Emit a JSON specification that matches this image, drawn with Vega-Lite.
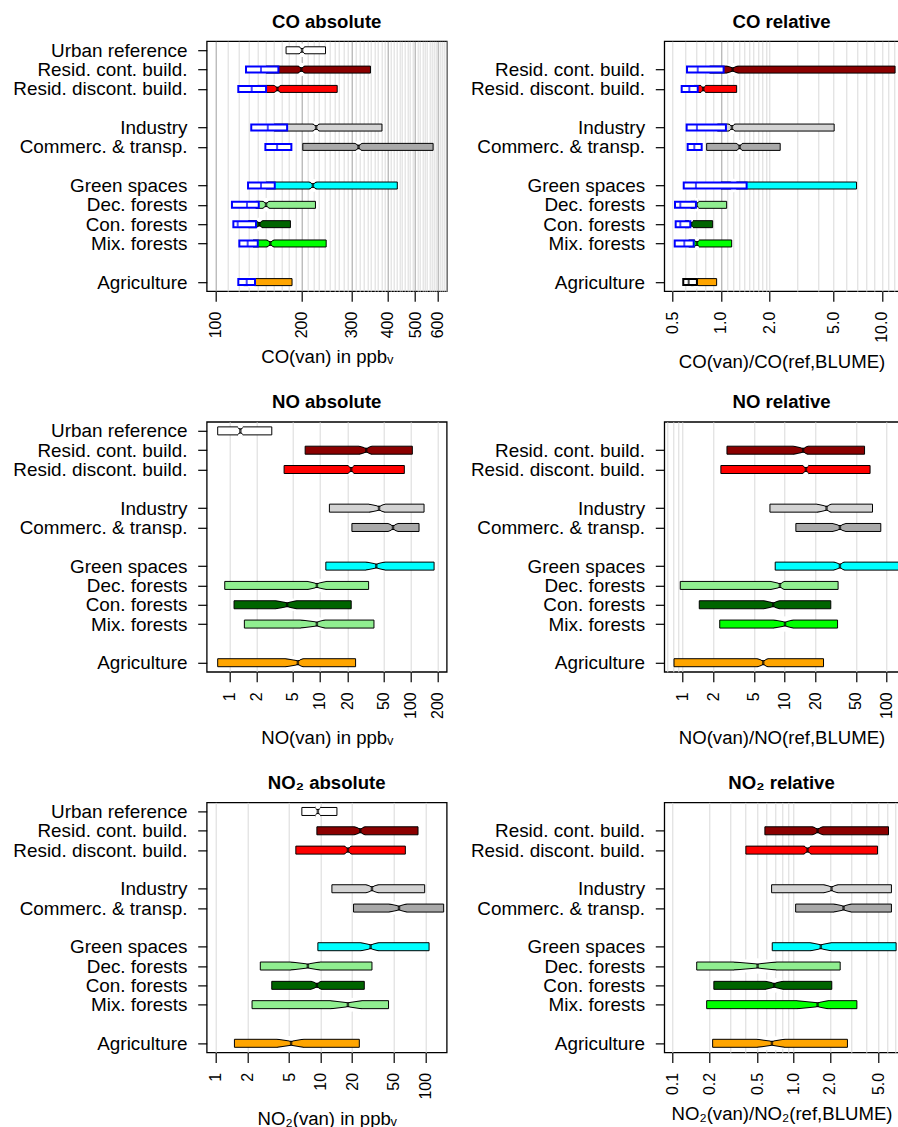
{
  "$schema": "https://vega.github.io/schema/vega-lite/v6.json",
  "background": "white",
  "padding": {"left": 11.7, "top": 11.2, "right": 0, "bottom": 0},
  "columns": 2,
  "bounds": "flush",
  "align": "each",
  "spacing": {"row": 130.6, "column": 217.6},
  "resolve": {"scale": {"fill": "independent", "stroke": "independent", "color": "independent", "size": "independent"}},
  "config": {
    "font": "Liberation Sans",
    "view": {"stroke": "black", "strokeWidth": 1.3},
    "axis": {"domain": false, "labelColor": "black", "titleColor": "black", "tickColor": "black", "labelFont": "Liberation Sans", "titleFont": "Liberation Sans"},
    "title": {"font": "Liberation Sans", "fontSize": 18.6, "fontWeight": "bold", "color": "black", "anchor": "middle", "offset": 10}
  },
  "datasets": {
    "co_abs": [
      {"cat": "Urban reference", "q1": 176.2, "nlo": 196, "med": 200.5, "nhi": 205, "q3": 242.3},
      {"cat": "Resid. cont. build.", "q1": 150, "nlo": 194.5, "med": 199.4, "nhi": 204.5, "q3": 348.4, "bq1": 127.5, "bmed": 143.9, "bq3": 165.6},
      {"cat": "Resid. discont. build.", "q1": 140, "nlo": 160, "med": 164.3, "nhi": 168.5, "q3": 266.3, "bq1": 119.8, "bmed": 133.5, "bq3": 149.9},
      {"cat": "Industry", "q1": 160, "nlo": 219, "med": 224.6, "nhi": 230, "q3": 382.3, "bq1": 133.0, "bmed": 152.0, "bq3": 177.7},
      {"cat": "Commerc. & transp.", "q1": 201.7, "nlo": 308, "med": 316.4, "nhi": 325, "q3": 577.9, "bq1": 149.1, "bmed": 163.9, "bq3": 183.9},
      {"cat": "Green spaces", "q1": 150, "nlo": 213, "med": 218.8, "nhi": 225, "q3": 432.7, "bq1": 129.6, "bmed": 143.9, "bq3": 160.8},
      {"cat": "Dec. forests", "q1": 138, "nlo": 146, "med": 149.9, "nhi": 154, "q3": 223.4, "bq1": 113.8, "bmed": 128.5, "bq3": 141.3},
      {"cat": "Con. forests", "q1": 130, "nlo": 138.5, "med": 142.0, "nhi": 145.5, "q3": 182.5, "bq1": 115.1, "bmed": 119.2, "bq3": 138.2},
      {"cat": "Mix. forests", "q1": 135, "nlo": 151, "med": 155.2, "nhi": 159.5, "q3": 243.6, "bq1": 120.8, "bmed": 129.2, "bq3": 140.2},
      {"cat": "Agriculture", "q1": 125, "nlo": 130, "med": 133, "nhi": 136, "q3": 184.9, "bq1": 119.8, "bmed": 128.2, "bq3": 137.1}
    ],
    "co_rel": [
      {"cat": "Resid. cont. build.", "q1": 0.85, "nlo": 1.09, "med": 1.182, "nhi": 1.27, "q3": 12.09, "bq1": 0.615, "bmed": 0.717, "bq3": 1.039},
      {"cat": "Resid. discont. build.", "q1": 0.68, "nlo": 0.75, "med": 0.776, "nhi": 0.80, "q3": 1.252, "bq1": 0.570, "bmed": 0.636, "bq3": 0.717},
      {"cat": "Industry", "q1": 0.95, "nlo": 1.12, "med": 1.170, "nhi": 1.22, "q3": 5.055, "bq1": 0.612, "bmed": 0.709, "bq3": 1.074},
      {"cat": "Commerc. & transp.", "q1": 0.815, "nlo": 1.25, "med": 1.306, "nhi": 1.36, "q3": 2.335, "bq1": 0.621, "bmed": 0.683, "bq3": 0.759},
      {"cat": "Green spaces", "q1": 1.0, "nlo": 1.15, "med": 1.2, "nhi": 1.25, "q3": 6.965, "bq1": 0.587, "bmed": 0.699, "bq3": 1.444},
      {"cat": "Dec. forests", "q1": 0.65, "nlo": 0.69, "med": 0.706, "nhi": 0.72, "q3": 1.085, "bq1": 0.518, "bmed": 0.559, "bq3": 0.699},
      {"cat": "Con. forests", "q1": 0.6, "nlo": 0.64, "med": 0.651, "nhi": 0.665, "q3": 0.888, "bq1": 0.523, "bmed": 0.559, "bq3": 0.645},
      {"cat": "Mix. forests", "q1": 0.63, "nlo": 0.69, "med": 0.709, "nhi": 0.725, "q3": 1.166, "bq1": 0.516, "bmed": 0.592, "bq3": 0.677},
      {"cat": "Agriculture", "q1": 0.65, "nlo": 0.68, "med": 0.70, "nhi": 0.72, "q3": 0.940, "bq1": 0.583, "bmed": 0.630, "bq3": 0.709}
    ],
    "no_abs": [
      {"cat": "Urban reference", "q1": 0.744, "nlo": 1.25, "med": 1.323, "nhi": 1.40, "q3": 2.94},
      {"cat": "Resid. cont. build.", "q1": 6.86, "nlo": 27.3, "med": 32.4, "nhi": 36.8, "q3": 104.4},
      {"cat": "Resid. discont. build.", "q1": 4.02, "nlo": 20.3, "med": 22.1, "nhi": 23.5, "q3": 85.2},
      {"cat": "Industry", "q1": 12.7, "nlo": 35.2, "med": 44.8, "nhi": 51.6, "q3": 140.6},
      {"cat": "Commerc. & transp.", "q1": 22.5, "nlo": 56.3, "med": 63.9, "nhi": 72.6, "q3": 123.8},
      {"cat": "Green spaces", "q1": 11.6, "nlo": 32.4, "med": 41.8, "nhi": 51.6, "q3": 181.4},
      {"cat": "Dec. forests", "q1": 0.89, "nlo": 7.35, "med": 9.24, "nhi": 11.7, "q3": 34.4},
      {"cat": "Con. forests", "q1": 1.127, "nlo": 3.28, "med": 4.34, "nhi": 5.46, "q3": 22.1},
      {"cat": "Mix. forests", "q1": 1.465, "nlo": 6.2, "med": 9.24, "nhi": 11.2, "q3": 39.4},
      {"cat": "Agriculture", "q1": 0.744, "nlo": 4.23, "med": 5.70, "nhi": 6.47, "q3": 24.7}
    ],
    "no_rel": [
      {"cat": "Resid. cont. build.", "q1": 2.72, "nlo": 12.4, "med": 15.2, "nhi": 16.8, "q3": 60.9},
      {"cat": "Resid. discont. build.", "q1": 2.37, "nlo": 15.0, "med": 16.2, "nhi": 17.0, "q3": 69.0},
      {"cat": "Industry", "q1": 7.18, "nlo": 21.1, "med": 25.8, "nhi": 28.4, "q3": 72.9},
      {"cat": "Commerc. & transp.", "q1": 12.9, "nlo": 29.6, "med": 34.9, "nhi": 39.9, "q3": 87.9},
      {"cat": "Green spaces", "q1": 8.09, "nlo": 30.6, "med": 34.9, "nhi": 38.4, "q3": 150},
      {"cat": "Dec. forests", "q1": 0.947, "nlo": 7.34, "med": 9.0, "nhi": 9.91, "q3": 33.5},
      {"cat": "Con. forests", "q1": 1.455, "nlo": 6.31, "med": 7.73, "nhi": 8.85, "q3": 28.4},
      {"cat": "Mix. forests", "q1": 2.31, "nlo": 7.91, "med": 10.1, "nhi": 12.0, "q3": 33.1},
      {"cat": "Agriculture", "q1": 0.822, "nlo": 5.44, "med": 6.17, "nhi": 6.81, "q3": 24.1}
    ],
    "no2_abs": [
      {"cat": "Urban reference", "q1": 6.61, "nlo": 9.1, "med": 9.40, "nhi": 9.7, "q3": 14.3},
      {"cat": "Resid. cont. build.", "q1": 9.20, "nlo": 21.1, "med": 23.9, "nhi": 26.3, "q3": 85.1},
      {"cat": "Resid. discont. build.", "q1": 5.79, "nlo": 16.9, "med": 18.2, "nhi": 19.6, "q3": 64.4},
      {"cat": "Industry", "q1": 12.8, "nlo": 27.3, "med": 30.9, "nhi": 35.3, "q3": 98.5},
      {"cat": "Commerc. & transp.", "q1": 20.6, "nlo": 45.5, "med": 56.0, "nhi": 65.8, "q3": 149.6},
      {"cat": "Green spaces", "q1": 9.40, "nlo": 24.4, "med": 30.0, "nhi": 35.3, "q3": 108.5},
      {"cat": "Dec. forests", "q1": 2.65, "nlo": 5.22, "med": 7.54, "nhi": 9.74, "q3": 30.9},
      {"cat": "Con. forests", "q1": 3.41, "nlo": 8.11, "med": 9.20, "nhi": 10.1, "q3": 26.1},
      {"cat": "Mix. forests", "q1": 2.21, "nlo": 12.6, "med": 18.2, "nhi": 24.4, "q3": 44.5},
      {"cat": "Agriculture", "q1": 1.50, "nlo": 3.89, "med": 5.22, "nhi": 6.76, "q3": 23.4}
    ],
    "no2_rel": [
      {"cat": "Resid. cont. build.", "q1": 0.579, "nlo": 1.44, "med": 1.58, "nhi": 1.74, "q3": 6.10},
      {"cat": "Resid. discont. build.", "q1": 0.403, "nlo": 1.22, "med": 1.305, "nhi": 1.39, "q3": 4.95},
      {"cat": "Industry", "q1": 0.658, "nlo": 1.79, "med": 2.06, "nhi": 2.31, "q3": 6.45},
      {"cat": "Commerc. & transp.", "q1": 1.04, "nlo": 2.17, "med": 2.59, "nhi": 2.98, "q3": 6.45},
      {"cat": "Green spaces", "q1": 0.666, "nlo": 1.39, "med": 1.68, "nhi": 2.03, "q3": 7.05},
      {"cat": "Dec. forests", "q1": 0.158, "nlo": 0.323, "med": 0.504, "nhi": 0.714, "q3": 2.43},
      {"cat": "Con. forests", "q1": 0.219, "nlo": 0.590, "med": 0.691, "nhi": 0.811, "q3": 2.07},
      {"cat": "Mix. forests", "q1": 0.191, "nlo": 1.08, "med": 1.58, "nhi": 1.91, "q3": 3.34},
      {"cat": "Agriculture", "q1": 0.214, "nlo": 0.504, "med": 0.662, "nhi": 0.836, "q3": 2.79}
    ]
  },
  "concat": [
    {
      "width": 240, "height": 250,
      "title": {"text": "CO absolute"},
      "data": {"name": "co_abs"},
      "resolve": {"scale": {"size": "independent"}},
      "encoding": {"y": {"field": "cat", "type": "nominal", "scale": {"type": "point", "domain": ["Urban reference", "Resid. cont. build.", "Resid. discont. build.", " ", "Industry", "Commerc. & transp.", "  ", "Green spaces", "Dec. forests", "Con. forests", "Mix. forests", "   ", "Agriculture"], "padding": 0.47}, "axis": {"values": ["Urban reference", "Resid. cont. build.", "Resid. discont. build.", "Industry", "Commerc. & transp.", "Green spaces", "Dec. forests", "Con. forests", "Mix. forests", "Agriculture"], "title": null, "labelFontSize": 18.9, "labelPadding": 10.7, "labelLimit": 0, "tickSize": 9, "tickWidth": 1.2, "grid": false}}},
      "layer": [
        {"mark": {"type": "bar", "size": 7, "stroke": "black", "strokeWidth": 1, "clip": true},
         "encoding": {
           "x": {"field": "q1", "type": "quantitative", "scale": {"type": "log", "domain": [92.8, 644.9], "nice": false},
                 "axis": {"title": "CO(van) in ppbᵥ", "values": [100,110,120,130,140,150,160,170,180,190,200,210,220,230,240,250,260,270,280,290,300,310,320,330,340,350,360,370,380,390,400,410,420,430,440,450,460,470,480,490,500,510,520,530,540,550,560,570,580,590,600,610,620,630,640],
                          "labelExpr": "indexof([100,200,300,400,500,600], datum.value) >= 0 ? format(datum.value, 'd') : ''",
                          "labelAngle": 270, "labelFontSize": 16, "labelPadding": 10, "labelOverlap": false, "labelFlush": false, "labelBound": false,
                          "tickSize": 10, "tickWidth": 1.2, "tickOpacity": {"condition": {"test": "indexof([100,200,300,400,500,600], datum.value) >= 0", "value": 1}, "value": 0},
                          "grid": true, "gridWidth": 1, "gridColor": {"condition": {"test": "indexof([100,200,300,400,500,600], datum.value) >= 0", "value": "#a0a0a0"}, "value": "#dadada"},
                          "titleFontSize": 18.6, "titleFontWeight": "normal", "titlePadding": 10}},
           "x2": {"field": "q3"},
           "fill": {"field": "cat", "type": "nominal", "scale": {"domain": ["Urban reference", "Resid. cont. build.", "Resid. discont. build.", "Industry", "Commerc. & transp.", "Green spaces", "Dec. forests", "Con. forests", "Mix. forests", "Agriculture"], "range": ["#FFFFFF", "#8B0000", "#FF0000", "#D3D3D3", "#A9A9A9", "#00FFFF", "#90EE90", "#006400", "#00FF00", "#FFA500"]}, "legend": null}
         }},
        {"transform": [{"fold": ["nlo", "med"], "as": ["k", "v"]}], "mark": {"type": "trail", "color": "black", "yOffset": -3.5},
         "encoding": {"x": {"field": "v", "type": "quantitative", "scale": {"type": "log", "domain": [92.8, 644.9], "nice": false}}, "detail": {"field": "cat"}, "order": {"field": "v", "type": "quantitative"}, "size": {"field": "k", "type": "nominal", "scale": {"type": "point", "domain": ["nlo", "med"], "range": [0, 4.5], "padding": 0}, "legend": null}}},
        {"transform": [{"fold": ["med", "nhi"], "as": ["k", "v"]}], "mark": {"type": "trail", "color": "black", "yOffset": -3.5},
         "encoding": {"x": {"field": "v", "type": "quantitative", "scale": {"type": "log", "domain": [92.8, 644.9], "nice": false}}, "detail": {"field": "cat"}, "order": {"field": "v", "type": "quantitative"}, "size": {"field": "k", "type": "nominal", "scale": {"type": "point", "domain": ["nhi", "med"], "range": [0, 4.5], "padding": 0}, "legend": null}}},
        {"transform": [{"fold": ["nlo", "med"], "as": ["k", "v"]}], "mark": {"type": "trail", "color": "white", "yOffset": -4.5},
         "encoding": {"x": {"field": "v", "type": "quantitative", "scale": {"type": "log", "domain": [92.8, 644.9], "nice": false}}, "detail": {"field": "cat"}, "order": {"field": "v", "type": "quantitative"}, "size": {"field": "k", "type": "nominal", "scale": {"type": "point", "domain": ["nlo", "med"], "range": [0, 4.5], "padding": 0}, "legend": null}}},
        {"transform": [{"fold": ["med", "nhi"], "as": ["k", "v"]}], "mark": {"type": "trail", "color": "white", "yOffset": -4.5},
         "encoding": {"x": {"field": "v", "type": "quantitative", "scale": {"type": "log", "domain": [92.8, 644.9], "nice": false}}, "detail": {"field": "cat"}, "order": {"field": "v", "type": "quantitative"}, "size": {"field": "k", "type": "nominal", "scale": {"type": "point", "domain": ["nhi", "med"], "range": [0, 4.5], "padding": 0}, "legend": null}}},
        {"transform": [{"fold": ["nlo", "med"], "as": ["k", "v"]}], "mark": {"type": "trail", "color": "black", "yOffset": 3.5},
         "encoding": {"x": {"field": "v", "type": "quantitative", "scale": {"type": "log", "domain": [92.8, 644.9], "nice": false}}, "detail": {"field": "cat"}, "order": {"field": "v", "type": "quantitative"}, "size": {"field": "k", "type": "nominal", "scale": {"type": "point", "domain": ["nlo", "med"], "range": [0, 4.5], "padding": 0}, "legend": null}}},
        {"transform": [{"fold": ["med", "nhi"], "as": ["k", "v"]}], "mark": {"type": "trail", "color": "black", "yOffset": 3.5},
         "encoding": {"x": {"field": "v", "type": "quantitative", "scale": {"type": "log", "domain": [92.8, 644.9], "nice": false}}, "detail": {"field": "cat"}, "order": {"field": "v", "type": "quantitative"}, "size": {"field": "k", "type": "nominal", "scale": {"type": "point", "domain": ["nhi", "med"], "range": [0, 4.5], "padding": 0}, "legend": null}}},
        {"transform": [{"fold": ["nlo", "med"], "as": ["k", "v"]}], "mark": {"type": "trail", "color": "white", "yOffset": 4.5},
         "encoding": {"x": {"field": "v", "type": "quantitative", "scale": {"type": "log", "domain": [92.8, 644.9], "nice": false}}, "detail": {"field": "cat"}, "order": {"field": "v", "type": "quantitative"}, "size": {"field": "k", "type": "nominal", "scale": {"type": "point", "domain": ["nlo", "med"], "range": [0, 4.5], "padding": 0}, "legend": null}}},
        {"transform": [{"fold": ["med", "nhi"], "as": ["k", "v"]}], "mark": {"type": "trail", "color": "white", "yOffset": 4.5},
         "encoding": {"x": {"field": "v", "type": "quantitative", "scale": {"type": "log", "domain": [92.8, 644.9], "nice": false}}, "detail": {"field": "cat"}, "order": {"field": "v", "type": "quantitative"}, "size": {"field": "k", "type": "nominal", "scale": {"type": "point", "domain": ["nhi", "med"], "range": [0, 4.5], "padding": 0}, "legend": null}}},
        {"mark": {"type": "tick", "color": "black", "thickness": 2.5, "size": 4.5},
         "encoding": {"x": {"field": "med", "type": "quantitative", "scale": {"type": "log", "domain": [92.8, 644.9], "nice": false}}}},
        {"mark": {"type": "bar", "size": 6, "fill": "white", "stroke": "#0000FF", "strokeWidth": 2, "clip": true},
         "encoding": {"x": {"field": "bq1", "type": "quantitative", "scale": {"type": "log", "domain": [92.8, 644.9], "nice": false}}, "x2": {"field": "bq3"}}},
        {"mark": {"type": "tick", "color": "#0000FF", "thickness": 2, "size": 5},
         "encoding": {"x": {"field": "bmed", "type": "quantitative", "scale": {"type": "log", "domain": [92.8, 644.9], "nice": false}}}}
      ]
    },
    {
      "width": 234.5, "height": 250,
      "title": {"text": "CO relative"},
      "data": {"name": "co_rel"},
      "resolve": {"scale": {"size": "independent"}},
      "encoding": {"y": {"field": "cat", "type": "nominal", "scale": {"type": "point", "domain": ["Urban reference", "Resid. cont. build.", "Resid. discont. build.", " ", "Industry", "Commerc. & transp.", "  ", "Green spaces", "Dec. forests", "Con. forests", "Mix. forests", "   ", "Agriculture"], "padding": 0.47}, "axis": {"values": ["Resid. cont. build.", "Resid. discont. build.", "Industry", "Commerc. & transp.", "Green spaces", "Dec. forests", "Con. forests", "Mix. forests", "Agriculture"], "title": null, "labelFontSize": 18.9, "labelPadding": 10.7, "labelLimit": 0, "tickSize": 9, "tickWidth": 1.2, "grid": false}}},
      "layer": [
        {"mark": {"type": "bar", "size": 7, "stroke": "black", "strokeWidth": 1, "clip": true},
         "encoding": {
           "x": {"field": "q1", "type": "quantitative", "scale": {"type": "log", "domain": [0.4444, 12.75], "nice": false},
                 "axis": {"title": "CO(van)/CO(ref,BLUME)", "values": [0.5,0.6,0.7,0.8,0.9,1,1.1,1.2,1.3,1.4,1.5,1.6,1.7,1.8,1.9,2,3,4,5,6,7,8,9,10,11,12],
                          "labelExpr": "indexof([0.5,1,2,5,10], datum.value) >= 0 ? format(datum.value, '.1f') : ''",
                          "labelAngle": 270, "labelFontSize": 16, "labelPadding": 10, "labelOverlap": false, "labelFlush": false, "labelBound": false,
                          "tickSize": 10, "tickWidth": 1.2, "tickOpacity": {"condition": {"test": "indexof([0.5,1,2,5,10], datum.value) >= 0", "value": 1}, "value": 0},
                          "grid": true, "gridWidth": 1, "gridColor": {"condition": {"test": "datum.value === 1", "value": "#a0a0a0"}, "value": "#dadada"},
                          "titleFontSize": 18.6, "titleFontWeight": "normal", "titlePadding": 10}},
           "x2": {"field": "q3"},
           "fill": {"field": "cat", "type": "nominal", "scale": {"domain": ["Urban reference", "Resid. cont. build.", "Resid. discont. build.", "Industry", "Commerc. & transp.", "Green spaces", "Dec. forests", "Con. forests", "Mix. forests", "Agriculture"], "range": ["#FFFFFF", "#8B0000", "#FF0000", "#D3D3D3", "#A9A9A9", "#00FFFF", "#90EE90", "#006400", "#00FF00", "#FFA500"]}, "legend": null}
         }},
        {"transform": [{"fold": ["nlo", "med"], "as": ["k", "v"]}], "mark": {"type": "trail", "color": "black", "yOffset": -3.5},
         "encoding": {"x": {"field": "v", "type": "quantitative", "scale": {"type": "log", "domain": [0.4444, 12.75], "nice": false}}, "detail": {"field": "cat"}, "order": {"field": "v", "type": "quantitative"}, "size": {"field": "k", "type": "nominal", "scale": {"type": "point", "domain": ["nlo", "med"], "range": [0, 4.5], "padding": 0}, "legend": null}}},
        {"transform": [{"fold": ["med", "nhi"], "as": ["k", "v"]}], "mark": {"type": "trail", "color": "black", "yOffset": -3.5},
         "encoding": {"x": {"field": "v", "type": "quantitative", "scale": {"type": "log", "domain": [0.4444, 12.75], "nice": false}}, "detail": {"field": "cat"}, "order": {"field": "v", "type": "quantitative"}, "size": {"field": "k", "type": "nominal", "scale": {"type": "point", "domain": ["nhi", "med"], "range": [0, 4.5], "padding": 0}, "legend": null}}},
        {"transform": [{"fold": ["nlo", "med"], "as": ["k", "v"]}], "mark": {"type": "trail", "color": "white", "yOffset": -4.5},
         "encoding": {"x": {"field": "v", "type": "quantitative", "scale": {"type": "log", "domain": [0.4444, 12.75], "nice": false}}, "detail": {"field": "cat"}, "order": {"field": "v", "type": "quantitative"}, "size": {"field": "k", "type": "nominal", "scale": {"type": "point", "domain": ["nlo", "med"], "range": [0, 4.5], "padding": 0}, "legend": null}}},
        {"transform": [{"fold": ["med", "nhi"], "as": ["k", "v"]}], "mark": {"type": "trail", "color": "white", "yOffset": -4.5},
         "encoding": {"x": {"field": "v", "type": "quantitative", "scale": {"type": "log", "domain": [0.4444, 12.75], "nice": false}}, "detail": {"field": "cat"}, "order": {"field": "v", "type": "quantitative"}, "size": {"field": "k", "type": "nominal", "scale": {"type": "point", "domain": ["nhi", "med"], "range": [0, 4.5], "padding": 0}, "legend": null}}},
        {"transform": [{"fold": ["nlo", "med"], "as": ["k", "v"]}], "mark": {"type": "trail", "color": "black", "yOffset": 3.5},
         "encoding": {"x": {"field": "v", "type": "quantitative", "scale": {"type": "log", "domain": [0.4444, 12.75], "nice": false}}, "detail": {"field": "cat"}, "order": {"field": "v", "type": "quantitative"}, "size": {"field": "k", "type": "nominal", "scale": {"type": "point", "domain": ["nlo", "med"], "range": [0, 4.5], "padding": 0}, "legend": null}}},
        {"transform": [{"fold": ["med", "nhi"], "as": ["k", "v"]}], "mark": {"type": "trail", "color": "black", "yOffset": 3.5},
         "encoding": {"x": {"field": "v", "type": "quantitative", "scale": {"type": "log", "domain": [0.4444, 12.75], "nice": false}}, "detail": {"field": "cat"}, "order": {"field": "v", "type": "quantitative"}, "size": {"field": "k", "type": "nominal", "scale": {"type": "point", "domain": ["nhi", "med"], "range": [0, 4.5], "padding": 0}, "legend": null}}},
        {"transform": [{"fold": ["nlo", "med"], "as": ["k", "v"]}], "mark": {"type": "trail", "color": "white", "yOffset": 4.5},
         "encoding": {"x": {"field": "v", "type": "quantitative", "scale": {"type": "log", "domain": [0.4444, 12.75], "nice": false}}, "detail": {"field": "cat"}, "order": {"field": "v", "type": "quantitative"}, "size": {"field": "k", "type": "nominal", "scale": {"type": "point", "domain": ["nlo", "med"], "range": [0, 4.5], "padding": 0}, "legend": null}}},
        {"transform": [{"fold": ["med", "nhi"], "as": ["k", "v"]}], "mark": {"type": "trail", "color": "white", "yOffset": 4.5},
         "encoding": {"x": {"field": "v", "type": "quantitative", "scale": {"type": "log", "domain": [0.4444, 12.75], "nice": false}}, "detail": {"field": "cat"}, "order": {"field": "v", "type": "quantitative"}, "size": {"field": "k", "type": "nominal", "scale": {"type": "point", "domain": ["nhi", "med"], "range": [0, 4.5], "padding": 0}, "legend": null}}},
        {"mark": {"type": "tick", "color": "black", "thickness": 2.5, "size": 4.5},
         "encoding": {"x": {"field": "med", "type": "quantitative", "scale": {"type": "log", "domain": [0.4444, 12.75], "nice": false}}}},
        {"mark": {"type": "bar", "size": 6, "fill": "white", "strokeWidth": 2, "clip": true},
         "encoding": {"x": {"field": "bq1", "type": "quantitative", "scale": {"type": "log", "domain": [0.4444, 12.75], "nice": false}}, "x2": {"field": "bq3"},
                      "stroke": {"field": "cat", "type": "nominal", "scale": {"domain": ["Resid. cont. build.", "Resid. discont. build.", "Industry", "Commerc. & transp.", "Green spaces", "Dec. forests", "Con. forests", "Mix. forests", "Agriculture"], "range": ["#0000FF", "#0000FF", "#0000FF", "#0000FF", "#0000FF", "#0000FF", "#0000FF", "#0000FF", "#000000"]}, "legend": null}}},
        {"mark": {"type": "tick", "thickness": 2, "size": 5},
         "encoding": {"x": {"field": "bmed", "type": "quantitative", "scale": {"type": "log", "domain": [0.4444, 12.75], "nice": false}},
                      "color": {"field": "cat", "type": "nominal", "scale": {"domain": ["Resid. cont. build.", "Resid. discont. build.", "Industry", "Commerc. & transp.", "Green spaces", "Dec. forests", "Con. forests", "Mix. forests", "Agriculture"], "range": ["#0000FF", "#0000FF", "#0000FF", "#0000FF", "#0000FF", "#0000FF", "#0000FF", "#0000FF", "#000000"]}, "legend": null}}}
      ]
    },
    {
      "width": 240, "height": 250,
      "title": {"text": "NO absolute"},
      "data": {"name": "no_abs"},
      "resolve": {"scale": {"size": "independent"}},
      "encoding": {"y": {"field": "cat", "type": "nominal", "scale": {"type": "point", "domain": ["Urban reference", "Resid. cont. build.", "Resid. discont. build.", " ", "Industry", "Commerc. & transp.", "  ", "Green spaces", "Dec. forests", "Con. forests", "Mix. forests", "   ", "Agriculture"], "padding": 0.47}, "axis": {"values": ["Urban reference", "Resid. cont. build.", "Resid. discont. build.", "Industry", "Commerc. & transp.", "Green spaces", "Dec. forests", "Con. forests", "Mix. forests", "Agriculture"], "title": null, "labelFontSize": 18.9, "labelPadding": 10.7, "labelLimit": 0, "tickSize": 9, "tickWidth": 1.2, "grid": false}}},
      "layer": [
        {"mark": {"type": "bar", "size": 8, "stroke": "black", "strokeWidth": 1, "clip": true},
         "encoding": {
           "x": {"field": "q1", "type": "quantitative", "scale": {"type": "log", "domain": [0.5627, 249.9], "nice": false},
                 "axis": {"title": "NO(van) in ppbᵥ", "values": [1,2,5,10,20,50,100,200], "format": "d",
                          "labelAngle": 270, "labelFontSize": 16, "labelPadding": 10, "labelOverlap": false, "labelFlush": false, "labelBound": false,
                          "tickSize": 10, "tickWidth": 1.2, "grid": true, "gridWidth": 1, "gridColor": "#d9d9d9",
                          "titleFontSize": 18.6, "titleFontWeight": "normal", "titlePadding": 10}},
           "x2": {"field": "q3"},
           "fill": {"field": "cat", "type": "nominal", "scale": {"domain": ["Urban reference", "Resid. cont. build.", "Resid. discont. build.", "Industry", "Commerc. & transp.", "Green spaces", "Dec. forests", "Con. forests", "Mix. forests", "Agriculture"], "range": ["#FFFFFF", "#8B0000", "#FF0000", "#D3D3D3", "#A9A9A9", "#00FFFF", "#90EE90", "#006400", "#90EE90", "#FFA500"]}, "legend": null}
         }},
        {"transform": [{"fold": ["nlo", "med"], "as": ["k", "v"]}], "mark": {"type": "trail", "color": "black", "yOffset": -4},
         "encoding": {"x": {"field": "v", "type": "quantitative", "scale": {"type": "log", "domain": [0.5627, 249.9], "nice": false}}, "detail": {"field": "cat"}, "order": {"field": "v", "type": "quantitative"}, "size": {"field": "k", "type": "nominal", "scale": {"type": "point", "domain": ["nlo", "med"], "range": [0, 5], "padding": 0}, "legend": null}}},
        {"transform": [{"fold": ["med", "nhi"], "as": ["k", "v"]}], "mark": {"type": "trail", "color": "black", "yOffset": -4},
         "encoding": {"x": {"field": "v", "type": "quantitative", "scale": {"type": "log", "domain": [0.5627, 249.9], "nice": false}}, "detail": {"field": "cat"}, "order": {"field": "v", "type": "quantitative"}, "size": {"field": "k", "type": "nominal", "scale": {"type": "point", "domain": ["nhi", "med"], "range": [0, 5], "padding": 0}, "legend": null}}},
        {"transform": [{"fold": ["nlo", "med"], "as": ["k", "v"]}], "mark": {"type": "trail", "color": "white", "yOffset": -5},
         "encoding": {"x": {"field": "v", "type": "quantitative", "scale": {"type": "log", "domain": [0.5627, 249.9], "nice": false}}, "detail": {"field": "cat"}, "order": {"field": "v", "type": "quantitative"}, "size": {"field": "k", "type": "nominal", "scale": {"type": "point", "domain": ["nlo", "med"], "range": [0, 5], "padding": 0}, "legend": null}}},
        {"transform": [{"fold": ["med", "nhi"], "as": ["k", "v"]}], "mark": {"type": "trail", "color": "white", "yOffset": -5},
         "encoding": {"x": {"field": "v", "type": "quantitative", "scale": {"type": "log", "domain": [0.5627, 249.9], "nice": false}}, "detail": {"field": "cat"}, "order": {"field": "v", "type": "quantitative"}, "size": {"field": "k", "type": "nominal", "scale": {"type": "point", "domain": ["nhi", "med"], "range": [0, 5], "padding": 0}, "legend": null}}},
        {"transform": [{"fold": ["nlo", "med"], "as": ["k", "v"]}], "mark": {"type": "trail", "color": "black", "yOffset": 4},
         "encoding": {"x": {"field": "v", "type": "quantitative", "scale": {"type": "log", "domain": [0.5627, 249.9], "nice": false}}, "detail": {"field": "cat"}, "order": {"field": "v", "type": "quantitative"}, "size": {"field": "k", "type": "nominal", "scale": {"type": "point", "domain": ["nlo", "med"], "range": [0, 5], "padding": 0}, "legend": null}}},
        {"transform": [{"fold": ["med", "nhi"], "as": ["k", "v"]}], "mark": {"type": "trail", "color": "black", "yOffset": 4},
         "encoding": {"x": {"field": "v", "type": "quantitative", "scale": {"type": "log", "domain": [0.5627, 249.9], "nice": false}}, "detail": {"field": "cat"}, "order": {"field": "v", "type": "quantitative"}, "size": {"field": "k", "type": "nominal", "scale": {"type": "point", "domain": ["nhi", "med"], "range": [0, 5], "padding": 0}, "legend": null}}},
        {"transform": [{"fold": ["nlo", "med"], "as": ["k", "v"]}], "mark": {"type": "trail", "color": "white", "yOffset": 5},
         "encoding": {"x": {"field": "v", "type": "quantitative", "scale": {"type": "log", "domain": [0.5627, 249.9], "nice": false}}, "detail": {"field": "cat"}, "order": {"field": "v", "type": "quantitative"}, "size": {"field": "k", "type": "nominal", "scale": {"type": "point", "domain": ["nlo", "med"], "range": [0, 5], "padding": 0}, "legend": null}}},
        {"transform": [{"fold": ["med", "nhi"], "as": ["k", "v"]}], "mark": {"type": "trail", "color": "white", "yOffset": 5},
         "encoding": {"x": {"field": "v", "type": "quantitative", "scale": {"type": "log", "domain": [0.5627, 249.9], "nice": false}}, "detail": {"field": "cat"}, "order": {"field": "v", "type": "quantitative"}, "size": {"field": "k", "type": "nominal", "scale": {"type": "point", "domain": ["nhi", "med"], "range": [0, 5], "padding": 0}, "legend": null}}},
        {"mark": {"type": "tick", "color": "black", "thickness": 2.5, "size": 5},
         "encoding": {"x": {"field": "med", "type": "quantitative", "scale": {"type": "log", "domain": [0.5627, 249.9], "nice": false}}}}
      ]
    },
    {
      "width": 234.5, "height": 250,
      "title": {"text": "NO relative"},
      "data": {"name": "no_rel"},
      "resolve": {"scale": {"size": "independent"}},
      "encoding": {"y": {"field": "cat", "type": "nominal", "scale": {"type": "point", "domain": ["Urban reference", "Resid. cont. build.", "Resid. discont. build.", " ", "Industry", "Commerc. & transp.", "  ", "Green spaces", "Dec. forests", "Con. forests", "Mix. forests", "   ", "Agriculture"], "padding": 0.47}, "axis": {"values": ["Resid. cont. build.", "Resid. discont. build.", "Industry", "Commerc. & transp.", "Green spaces", "Dec. forests", "Con. forests", "Mix. forests", "Agriculture"], "title": null, "labelFontSize": 18.9, "labelPadding": 10.7, "labelLimit": 0, "tickSize": 9, "tickWidth": 1.2, "grid": false}}},
      "layer": [
        {"mark": {"type": "bar", "size": 8, "stroke": "black", "strokeWidth": 1, "clip": true},
         "encoding": {
           "x": {"field": "q1", "type": "quantitative", "scale": {"type": "log", "domain": [0.66, 132], "nice": false},
                 "axis": {"title": "NO(van)/NO(ref,BLUME)", "values": [0.7,0.8,0.9,1,2,5,10,20,50,100],
                          "labelExpr": "datum.value >= 1 ? format(datum.value, 'd') : ''",
                          "labelAngle": 270, "labelFontSize": 16, "labelPadding": 10, "labelOverlap": false, "labelFlush": false, "labelBound": false,
                          "tickSize": 10, "tickWidth": 1.2, "tickOpacity": {"condition": {"test": "datum.value >= 1", "value": 1}, "value": 0},
                          "grid": true, "gridWidth": 1, "gridColor": "#d9d9d9",
                          "titleFontSize": 18.6, "titleFontWeight": "normal", "titlePadding": 10}},
           "x2": {"field": "q3"},
           "fill": {"field": "cat", "type": "nominal", "scale": {"domain": ["Urban reference", "Resid. cont. build.", "Resid. discont. build.", "Industry", "Commerc. & transp.", "Green spaces", "Dec. forests", "Con. forests", "Mix. forests", "Agriculture"], "range": ["#FFFFFF", "#8B0000", "#FF0000", "#D3D3D3", "#A9A9A9", "#00FFFF", "#90EE90", "#006400", "#00FF00", "#FFA500"]}, "legend": null}
         }},
        {"transform": [{"fold": ["nlo", "med"], "as": ["k", "v"]}], "mark": {"type": "trail", "color": "black", "yOffset": -4},
         "encoding": {"x": {"field": "v", "type": "quantitative", "scale": {"type": "log", "domain": [0.66, 132], "nice": false}}, "detail": {"field": "cat"}, "order": {"field": "v", "type": "quantitative"}, "size": {"field": "k", "type": "nominal", "scale": {"type": "point", "domain": ["nlo", "med"], "range": [0, 5], "padding": 0}, "legend": null}}},
        {"transform": [{"fold": ["med", "nhi"], "as": ["k", "v"]}], "mark": {"type": "trail", "color": "black", "yOffset": -4},
         "encoding": {"x": {"field": "v", "type": "quantitative", "scale": {"type": "log", "domain": [0.66, 132], "nice": false}}, "detail": {"field": "cat"}, "order": {"field": "v", "type": "quantitative"}, "size": {"field": "k", "type": "nominal", "scale": {"type": "point", "domain": ["nhi", "med"], "range": [0, 5], "padding": 0}, "legend": null}}},
        {"transform": [{"fold": ["nlo", "med"], "as": ["k", "v"]}], "mark": {"type": "trail", "color": "white", "yOffset": -5},
         "encoding": {"x": {"field": "v", "type": "quantitative", "scale": {"type": "log", "domain": [0.66, 132], "nice": false}}, "detail": {"field": "cat"}, "order": {"field": "v", "type": "quantitative"}, "size": {"field": "k", "type": "nominal", "scale": {"type": "point", "domain": ["nlo", "med"], "range": [0, 5], "padding": 0}, "legend": null}}},
        {"transform": [{"fold": ["med", "nhi"], "as": ["k", "v"]}], "mark": {"type": "trail", "color": "white", "yOffset": -5},
         "encoding": {"x": {"field": "v", "type": "quantitative", "scale": {"type": "log", "domain": [0.66, 132], "nice": false}}, "detail": {"field": "cat"}, "order": {"field": "v", "type": "quantitative"}, "size": {"field": "k", "type": "nominal", "scale": {"type": "point", "domain": ["nhi", "med"], "range": [0, 5], "padding": 0}, "legend": null}}},
        {"transform": [{"fold": ["nlo", "med"], "as": ["k", "v"]}], "mark": {"type": "trail", "color": "black", "yOffset": 4},
         "encoding": {"x": {"field": "v", "type": "quantitative", "scale": {"type": "log", "domain": [0.66, 132], "nice": false}}, "detail": {"field": "cat"}, "order": {"field": "v", "type": "quantitative"}, "size": {"field": "k", "type": "nominal", "scale": {"type": "point", "domain": ["nlo", "med"], "range": [0, 5], "padding": 0}, "legend": null}}},
        {"transform": [{"fold": ["med", "nhi"], "as": ["k", "v"]}], "mark": {"type": "trail", "color": "black", "yOffset": 4},
         "encoding": {"x": {"field": "v", "type": "quantitative", "scale": {"type": "log", "domain": [0.66, 132], "nice": false}}, "detail": {"field": "cat"}, "order": {"field": "v", "type": "quantitative"}, "size": {"field": "k", "type": "nominal", "scale": {"type": "point", "domain": ["nhi", "med"], "range": [0, 5], "padding": 0}, "legend": null}}},
        {"transform": [{"fold": ["nlo", "med"], "as": ["k", "v"]}], "mark": {"type": "trail", "color": "white", "yOffset": 5},
         "encoding": {"x": {"field": "v", "type": "quantitative", "scale": {"type": "log", "domain": [0.66, 132], "nice": false}}, "detail": {"field": "cat"}, "order": {"field": "v", "type": "quantitative"}, "size": {"field": "k", "type": "nominal", "scale": {"type": "point", "domain": ["nlo", "med"], "range": [0, 5], "padding": 0}, "legend": null}}},
        {"transform": [{"fold": ["med", "nhi"], "as": ["k", "v"]}], "mark": {"type": "trail", "color": "white", "yOffset": 5},
         "encoding": {"x": {"field": "v", "type": "quantitative", "scale": {"type": "log", "domain": [0.66, 132], "nice": false}}, "detail": {"field": "cat"}, "order": {"field": "v", "type": "quantitative"}, "size": {"field": "k", "type": "nominal", "scale": {"type": "point", "domain": ["nhi", "med"], "range": [0, 5], "padding": 0}, "legend": null}}},
        {"mark": {"type": "tick", "color": "black", "thickness": 2.5, "size": 5},
         "encoding": {"x": {"field": "med", "type": "quantitative", "scale": {"type": "log", "domain": [0.66, 132], "nice": false}}}}
      ]
    },
    {
      "width": 240, "height": 250,
      "title": {"text": "NO₂ absolute"},
      "data": {"name": "no2_abs"},
      "resolve": {"scale": {"size": "independent"}},
      "encoding": {"y": {"field": "cat", "type": "nominal", "scale": {"type": "point", "domain": ["Urban reference", "Resid. cont. build.", "Resid. discont. build.", " ", "Industry", "Commerc. & transp.", "  ", "Green spaces", "Dec. forests", "Con. forests", "Mix. forests", "   ", "Agriculture"], "padding": 0.47}, "axis": {"values": ["Urban reference", "Resid. cont. build.", "Resid. discont. build.", "Industry", "Commerc. & transp.", "Green spaces", "Dec. forests", "Con. forests", "Mix. forests", "Agriculture"], "title": null, "labelFontSize": 18.9, "labelPadding": 10.7, "labelLimit": 0, "tickSize": 9, "tickWidth": 1.2, "grid": false}}},
      "layer": [
        {"mark": {"type": "bar", "size": 8, "stroke": "black", "strokeWidth": 1, "clip": true},
         "encoding": {
           "x": {"field": "q1", "type": "quantitative", "scale": {"type": "log", "domain": [0.815, 159.9], "nice": false},
                 "axis": {"title": "NO₂(van) in ppbᵥ", "values": [1,2,5,10,20,50,100], "format": "d",
                          "labelAngle": 270, "labelFontSize": 16, "labelPadding": 10, "labelOverlap": false, "labelFlush": false, "labelBound": false,
                          "tickSize": 10, "tickWidth": 1.2, "grid": true, "gridWidth": 1, "gridColor": "#d9d9d9",
                          "titleFontSize": 18.6, "titleFontWeight": "normal", "titlePadding": 10}},
           "x2": {"field": "q3"},
           "fill": {"field": "cat", "type": "nominal", "scale": {"domain": ["Urban reference", "Resid. cont. build.", "Resid. discont. build.", "Industry", "Commerc. & transp.", "Green spaces", "Dec. forests", "Con. forests", "Mix. forests", "Agriculture"], "range": ["#FFFFFF", "#8B0000", "#FF0000", "#D3D3D3", "#A9A9A9", "#00FFFF", "#90EE90", "#006400", "#90EE90", "#FFA500"]}, "legend": null}
         }},
        {"transform": [{"fold": ["nlo", "med"], "as": ["k", "v"]}], "mark": {"type": "trail", "color": "black", "yOffset": -4},
         "encoding": {"x": {"field": "v", "type": "quantitative", "scale": {"type": "log", "domain": [0.815, 159.9], "nice": false}}, "detail": {"field": "cat"}, "order": {"field": "v", "type": "quantitative"}, "size": {"field": "k", "type": "nominal", "scale": {"type": "point", "domain": ["nlo", "med"], "range": [0, 5], "padding": 0}, "legend": null}}},
        {"transform": [{"fold": ["med", "nhi"], "as": ["k", "v"]}], "mark": {"type": "trail", "color": "black", "yOffset": -4},
         "encoding": {"x": {"field": "v", "type": "quantitative", "scale": {"type": "log", "domain": [0.815, 159.9], "nice": false}}, "detail": {"field": "cat"}, "order": {"field": "v", "type": "quantitative"}, "size": {"field": "k", "type": "nominal", "scale": {"type": "point", "domain": ["nhi", "med"], "range": [0, 5], "padding": 0}, "legend": null}}},
        {"transform": [{"fold": ["nlo", "med"], "as": ["k", "v"]}], "mark": {"type": "trail", "color": "white", "yOffset": -5},
         "encoding": {"x": {"field": "v", "type": "quantitative", "scale": {"type": "log", "domain": [0.815, 159.9], "nice": false}}, "detail": {"field": "cat"}, "order": {"field": "v", "type": "quantitative"}, "size": {"field": "k", "type": "nominal", "scale": {"type": "point", "domain": ["nlo", "med"], "range": [0, 5], "padding": 0}, "legend": null}}},
        {"transform": [{"fold": ["med", "nhi"], "as": ["k", "v"]}], "mark": {"type": "trail", "color": "white", "yOffset": -5},
         "encoding": {"x": {"field": "v", "type": "quantitative", "scale": {"type": "log", "domain": [0.815, 159.9], "nice": false}}, "detail": {"field": "cat"}, "order": {"field": "v", "type": "quantitative"}, "size": {"field": "k", "type": "nominal", "scale": {"type": "point", "domain": ["nhi", "med"], "range": [0, 5], "padding": 0}, "legend": null}}},
        {"transform": [{"fold": ["nlo", "med"], "as": ["k", "v"]}], "mark": {"type": "trail", "color": "black", "yOffset": 4},
         "encoding": {"x": {"field": "v", "type": "quantitative", "scale": {"type": "log", "domain": [0.815, 159.9], "nice": false}}, "detail": {"field": "cat"}, "order": {"field": "v", "type": "quantitative"}, "size": {"field": "k", "type": "nominal", "scale": {"type": "point", "domain": ["nlo", "med"], "range": [0, 5], "padding": 0}, "legend": null}}},
        {"transform": [{"fold": ["med", "nhi"], "as": ["k", "v"]}], "mark": {"type": "trail", "color": "black", "yOffset": 4},
         "encoding": {"x": {"field": "v", "type": "quantitative", "scale": {"type": "log", "domain": [0.815, 159.9], "nice": false}}, "detail": {"field": "cat"}, "order": {"field": "v", "type": "quantitative"}, "size": {"field": "k", "type": "nominal", "scale": {"type": "point", "domain": ["nhi", "med"], "range": [0, 5], "padding": 0}, "legend": null}}},
        {"transform": [{"fold": ["nlo", "med"], "as": ["k", "v"]}], "mark": {"type": "trail", "color": "white", "yOffset": 5},
         "encoding": {"x": {"field": "v", "type": "quantitative", "scale": {"type": "log", "domain": [0.815, 159.9], "nice": false}}, "detail": {"field": "cat"}, "order": {"field": "v", "type": "quantitative"}, "size": {"field": "k", "type": "nominal", "scale": {"type": "point", "domain": ["nlo", "med"], "range": [0, 5], "padding": 0}, "legend": null}}},
        {"transform": [{"fold": ["med", "nhi"], "as": ["k", "v"]}], "mark": {"type": "trail", "color": "white", "yOffset": 5},
         "encoding": {"x": {"field": "v", "type": "quantitative", "scale": {"type": "log", "domain": [0.815, 159.9], "nice": false}}, "detail": {"field": "cat"}, "order": {"field": "v", "type": "quantitative"}, "size": {"field": "k", "type": "nominal", "scale": {"type": "point", "domain": ["nhi", "med"], "range": [0, 5], "padding": 0}, "legend": null}}},
        {"mark": {"type": "tick", "color": "black", "thickness": 2.5, "size": 5},
         "encoding": {"x": {"field": "med", "type": "quantitative", "scale": {"type": "log", "domain": [0.815, 159.9], "nice": false}}}}
      ]
    },
    {
      "width": 234.5, "height": 250,
      "title": {"text": "NO₂ relative"},
      "data": {"name": "no2_rel"},
      "resolve": {"scale": {"size": "independent"}},
      "encoding": {"y": {"field": "cat", "type": "nominal", "scale": {"type": "point", "domain": ["Urban reference", "Resid. cont. build.", "Resid. discont. build.", " ", "Industry", "Commerc. & transp.", "  ", "Green spaces", "Dec. forests", "Con. forests", "Mix. forests", "   ", "Agriculture"], "padding": 0.47}, "axis": {"values": ["Resid. cont. build.", "Resid. discont. build.", "Industry", "Commerc. & transp.", "Green spaces", "Dec. forests", "Con. forests", "Mix. forests", "Agriculture"], "title": null, "labelFontSize": 18.9, "labelPadding": 10.7, "labelLimit": 0, "tickSize": 9, "tickWidth": 1.2, "grid": false}}},
      "layer": [
        {"mark": {"type": "bar", "size": 8, "stroke": "black", "strokeWidth": 1, "clip": true},
         "encoding": {
           "x": {"field": "q1", "type": "quantitative", "scale": {"type": "log", "domain": [0.0852, 7.42], "nice": false},
                 "axis": {"title": "NO₂(van)/NO₂(ref,BLUME)", "values": [0.1,0.2,0.3,0.4,0.5,0.6,0.7,0.8,0.9,1,2,3,4,5,6,7],
                          "labelExpr": "indexof([0.1,0.2,0.5,1,2,5], datum.value) >= 0 ? format(datum.value, '.1f') : ''",
                          "labelAngle": 270, "labelFontSize": 16, "labelPadding": 10, "labelOverlap": false, "labelFlush": false, "labelBound": false,
                          "tickSize": 10, "tickWidth": 1.2, "tickOpacity": {"condition": {"test": "indexof([0.1,0.2,0.5,1,2,5], datum.value) >= 0", "value": 1}, "value": 0},
                          "grid": true, "gridWidth": 1, "gridColor": "#d9d9d9",
                          "titleFontSize": 18.6, "titleFontWeight": "normal", "titlePadding": 10}},
           "x2": {"field": "q3"},
           "fill": {"field": "cat", "type": "nominal", "scale": {"domain": ["Urban reference", "Resid. cont. build.", "Resid. discont. build.", "Industry", "Commerc. & transp.", "Green spaces", "Dec. forests", "Con. forests", "Mix. forests", "Agriculture"], "range": ["#FFFFFF", "#8B0000", "#FF0000", "#D3D3D3", "#A9A9A9", "#00FFFF", "#90EE90", "#006400", "#00FF00", "#FFA500"]}, "legend": null}
         }},
        {"transform": [{"fold": ["nlo", "med"], "as": ["k", "v"]}], "mark": {"type": "trail", "color": "black", "yOffset": -4},
         "encoding": {"x": {"field": "v", "type": "quantitative", "scale": {"type": "log", "domain": [0.0852, 7.42], "nice": false}}, "detail": {"field": "cat"}, "order": {"field": "v", "type": "quantitative"}, "size": {"field": "k", "type": "nominal", "scale": {"type": "point", "domain": ["nlo", "med"], "range": [0, 5], "padding": 0}, "legend": null}}},
        {"transform": [{"fold": ["med", "nhi"], "as": ["k", "v"]}], "mark": {"type": "trail", "color": "black", "yOffset": -4},
         "encoding": {"x": {"field": "v", "type": "quantitative", "scale": {"type": "log", "domain": [0.0852, 7.42], "nice": false}}, "detail": {"field": "cat"}, "order": {"field": "v", "type": "quantitative"}, "size": {"field": "k", "type": "nominal", "scale": {"type": "point", "domain": ["nhi", "med"], "range": [0, 5], "padding": 0}, "legend": null}}},
        {"transform": [{"fold": ["nlo", "med"], "as": ["k", "v"]}], "mark": {"type": "trail", "color": "white", "yOffset": -5},
         "encoding": {"x": {"field": "v", "type": "quantitative", "scale": {"type": "log", "domain": [0.0852, 7.42], "nice": false}}, "detail": {"field": "cat"}, "order": {"field": "v", "type": "quantitative"}, "size": {"field": "k", "type": "nominal", "scale": {"type": "point", "domain": ["nlo", "med"], "range": [0, 5], "padding": 0}, "legend": null}}},
        {"transform": [{"fold": ["med", "nhi"], "as": ["k", "v"]}], "mark": {"type": "trail", "color": "white", "yOffset": -5},
         "encoding": {"x": {"field": "v", "type": "quantitative", "scale": {"type": "log", "domain": [0.0852, 7.42], "nice": false}}, "detail": {"field": "cat"}, "order": {"field": "v", "type": "quantitative"}, "size": {"field": "k", "type": "nominal", "scale": {"type": "point", "domain": ["nhi", "med"], "range": [0, 5], "padding": 0}, "legend": null}}},
        {"transform": [{"fold": ["nlo", "med"], "as": ["k", "v"]}], "mark": {"type": "trail", "color": "black", "yOffset": 4},
         "encoding": {"x": {"field": "v", "type": "quantitative", "scale": {"type": "log", "domain": [0.0852, 7.42], "nice": false}}, "detail": {"field": "cat"}, "order": {"field": "v", "type": "quantitative"}, "size": {"field": "k", "type": "nominal", "scale": {"type": "point", "domain": ["nlo", "med"], "range": [0, 5], "padding": 0}, "legend": null}}},
        {"transform": [{"fold": ["med", "nhi"], "as": ["k", "v"]}], "mark": {"type": "trail", "color": "black", "yOffset": 4},
         "encoding": {"x": {"field": "v", "type": "quantitative", "scale": {"type": "log", "domain": [0.0852, 7.42], "nice": false}}, "detail": {"field": "cat"}, "order": {"field": "v", "type": "quantitative"}, "size": {"field": "k", "type": "nominal", "scale": {"type": "point", "domain": ["nhi", "med"], "range": [0, 5], "padding": 0}, "legend": null}}},
        {"transform": [{"fold": ["nlo", "med"], "as": ["k", "v"]}], "mark": {"type": "trail", "color": "white", "yOffset": 5},
         "encoding": {"x": {"field": "v", "type": "quantitative", "scale": {"type": "log", "domain": [0.0852, 7.42], "nice": false}}, "detail": {"field": "cat"}, "order": {"field": "v", "type": "quantitative"}, "size": {"field": "k", "type": "nominal", "scale": {"type": "point", "domain": ["nlo", "med"], "range": [0, 5], "padding": 0}, "legend": null}}},
        {"transform": [{"fold": ["med", "nhi"], "as": ["k", "v"]}], "mark": {"type": "trail", "color": "white", "yOffset": 5},
         "encoding": {"x": {"field": "v", "type": "quantitative", "scale": {"type": "log", "domain": [0.0852, 7.42], "nice": false}}, "detail": {"field": "cat"}, "order": {"field": "v", "type": "quantitative"}, "size": {"field": "k", "type": "nominal", "scale": {"type": "point", "domain": ["nhi", "med"], "range": [0, 5], "padding": 0}, "legend": null}}},
        {"mark": {"type": "tick", "color": "black", "thickness": 2.5, "size": 5},
         "encoding": {"x": {"field": "med", "type": "quantitative", "scale": {"type": "log", "domain": [0.0852, 7.42], "nice": false}}}}
      ]
    }
  ]
}
